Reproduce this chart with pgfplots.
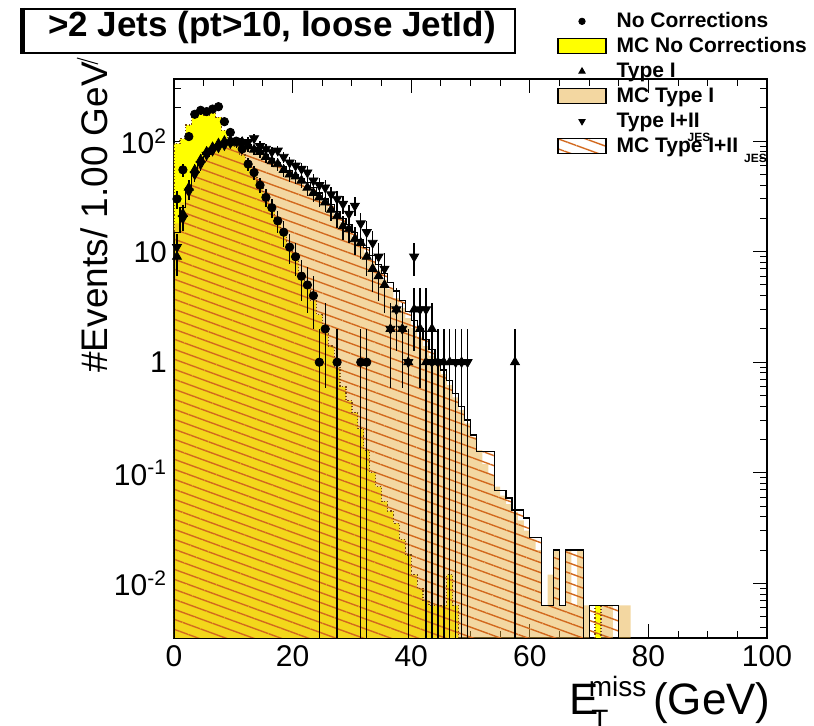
\documentclass[border=0pt]{standalone}
\usepackage{fontspec}
\setmainfont{Liberation Sans}
\usepackage{pgfplots}
\pgfplotsset{compat=1.18}
\usepackage{pgfplotstable}
\usetikzlibrary{patterns.meta}

\definecolor{mcyellow}{RGB}{255,255,0}
\definecolor{mctan}{RGB}{230,172,58}
\definecolor{hatchc}{RGB}{210,105,30}
\definecolor{dotc}{RGB}{120,70,20}

\pgfplotsset{
  boxlegend/.style={legend image code/.code={\draw[##1,solid,draw=black,line width=0.6pt] (0pt,-3.75pt) rectangle (24pt,3.75pt);}},
  marklegend/.style={legend image code/.code={\path[draw=none,fill=none] (0pt,-3.75pt) rectangle (24pt,3.75pt); \draw[##1] plot coordinates {(12pt,0pt)};}},
  hatchpat/.style={pattern={Lines[angle=-20,distance=4.7pt,line width=0.7pt]},pattern color=hatchc},
}

% MC No Corrections (bin left edge, content)
\pgfplotstableread{
x y
0 1e-4
0 95
1 105
2 140
3 165
4 175
5 170
6 180
7 165
8 125
9 105
10 90
11 75
12 60
13 48
14 38
15 30
16 24
17 18
18 14
19 11
20 8.5
21 6.5
22 5
23 3.6
24 2.7
25 2.0
26 1.4
27 0.9
28 0.6
29 0.45
30 0.35
31 0.25
32 0.16
33 0.1
34 0.075
35 0.055
36 0.045
37 0.035
38 0.025
39 0.018
40 0.012
41 0.009
42 0.007
43 0.0063
44 0.0063
45 0.0063
46 0.012
47 0.0063
48 1e-4
71 0.0063
72 1e-4
}\mcnc

% MC Type I
\pgfplotstableread{
x y
0 1e-4
0 18
1 28
2 40
3 52
4 64
5 75
6 84
7 92
8 98
9 100
10 98
11 95
12 90
13 85
14 79
15 73
16 67
17 61
18 56
19 51
20 47
21 43
22 39
23 35
24 31
25 27.5
26 24
27 21
28 18.5
29 16
30 13.5
31 11.5
32 9.8
33 8.2
34 6.8
35 5.6
36 4.6
37 3.8
38 3.1
39 2.5
40 2.05
41 1.7
42 1.4
43 1.15
44 0.95
45 0.78
46 0.62
47 0.48
48 0.37
49 0.28
50 0.21
51 0.16
52 0.12
53 0.095
54 0.075
55 0.062
56 0.052
57 0.044
58 0.037
59 0.03
60 0.025
61 0.02
62 0.0063
63 0.012
64 0.02
65 0.0063
66 0.02
67 0.0063
68 0.02
69 0.0063
70 1e-4
72 0.0063
74 1e-4
75 0.0063
77 1e-4
}\mctI

% MC Type I+II JES
\pgfplotstableread{
x y
0 1e-4
0 15
1 25
2 38
3 50
4 62
5 73
6 82
7 90
8 96
9 99
10 99
11 97
12 93
13 88
14 82
15 76
16 70
17 64
18 59
19 54
20 50
21 46
22 42
23 38
24 34
25 30
26 26.5
27 23
28 20
29 17.5
30 15
31 12.8
32 10.9
33 9.2
34 7.7
35 6.4
36 5.3
37 4.4
38 3.6
39 2.9
40 2.4
41 2.0
42 1.6
43 1.3
44 1.05
45 0.85
46 0.68
47 0.52
48 0.4
49 0.3
50 0.22
51 0.155
54 0.069
56 0.059
57 0.046
59 0.039
60 0.026
62 0.0063
64 0.02
65 0.0063
66 0.02
69 1e-4
70 0.0063
75 1e-4
}\mctII

% Data: No Corrections (bin centre, events)
\pgfplotstableread{
x y
0.5 30
1.5 55
2.5 110
3.5 175
4.5 190
5.5 185
6.5 195
7.5 205
8.5 150
9.5 120
10.5 100
11.5 85
12.5 62
13.5 52
14.5 40
15.5 31
16.5 25
17.5 19
18.5 15
19.5 11
20.5 9
21.5 6
22.5 5
23.5 4
24.5 1
25.5 2
27.5 1
31.5 1
32.5 1
}\dnc

% Data: Type I
\pgfplotstableread{
x y
0.5 9
1.5 22
2.5 38
3.5 55
4.5 68
5.5 80
6.5 88
7.5 95
8.5 100
9.5 102
10.5 96
11.5 98
12.5 90
13.5 84
14.5 80
15.5 72
16.5 66
17.5 62
18.5 55
19.5 50
20.5 48
21.5 44
22.5 38
23.5 34
24.5 31
25.5 28
26.5 24
27.5 21
28.5 17
29.5 16
30.5 13
31.5 12
32.5 9
33.5 7
34.5 6
35.5 5
36.5 2
37.5 3
38.5 2
39.5 1
40.5 3
41.5 2
42.5 1
43.5 2
44.5 1
45.5 1
46.5 1
48.5 1
57.5 1
}\dtI

% Data: Type I+II JES
\pgfplotstableread{
x y
0.5 11
1.5 20
2.5 35
3.5 50
4.5 62
5.5 75
6.5 82
7.5 88
8.5 92
9.5 96
10.5 100
11.5 95
12.5 98
13.5 106
14.5 90
15.5 85
16.5 80
17.5 82
18.5 72
19.5 64
20.5 60
21.5 56
22.5 52
23.5 44
24.5 40
25.5 38
26.5 33
27.5 30
28.5 27
29.5 22
30.5 26
31.5 18
32.5 15
33.5 12
34.5 9
35.5 7
36.5 2
37.5 3
38.5 2
39.5 1
40.5 9
41.5 3
42.5 3
43.5 1
44.5 1
47.5 1
48.5 1
49.5 1
}\dtII

\begin{document}
\begin{tikzpicture}
\useasboundingbox (-87pt,-44pt) rectangle (320pt,319pt);
\begin{axis}[
  at={(0pt,0pt)}, anchor=south west,
  scale only axis, width=296.5pt, height=279.5pt,
  ymode=log, xmin=0, xmax=100, ymin=0.0032, ymax=365,
  xtick={0,20,40,60,80,100}, minor x tick num=3,
  ytick={0.01,0.1,1,10,100},
  minor ytick={0.004,0.005,0.006,0.007,0.008,0.009,0.02,0.03,0.04,0.05,0.06,0.07,0.08,0.09,0.2,0.3,0.4,0.5,0.6,0.7,0.8,0.9,2,3,4,5,6,7,8,9,20,30,40,50,60,70,80,90,200,300},
  yticklabels={10\textsuperscript{-2},10\textsuperscript{-1},1,10,10\textsuperscript{2}},
  /pgf/number format/assume math mode=true,
  tick align=inside, major tick length=7pt, minor tick length=3.5pt,
  every tick/.style={black, line width=0.5pt},
  tick label style={font=\fontsize{15}{15}\selectfont},
  axis line style={line width=0.8pt},
  legend style={at={(0.6459,1.1262)}, anchor=north west, draw=none, fill=none,
    inner sep=0pt, row sep=0pt, column sep=5pt,
    nodes={inner sep=0pt, text height=9.5pt, text depth=3pt, font=\bfseries\fontsize{10.5}{10.5}\selectfont}},
  legend cell align=left,
]
\addplot[forget plot, const plot mark left, fill=mcyellow, draw=none] table[x=x,y=y]{\mcnc} -- cycle;
\addplot[forget plot, const plot mark left, fill=mctan, fill opacity=0.48, draw=none] table[x=x,y=y]{\mctI} -- cycle;
\addplot[forget plot, const plot mark left, hatchpat, draw=none] table[x=x,y=y]{\mctII} -- cycle;
\addplot[forget plot, const plot mark left, draw=dotc, densely dotted, line width=0.6pt] table[x=x,y=y]{\mcnc};
\addplot[forget plot, const plot mark left, draw=black, line width=0.6pt] table[x=x,y=y]{\mctII};

\addplot[forget plot, only marks, mark=*, mark size=2.1pt, black,
  error bars/.cd, y dir=both, y explicit, error mark=none, error bar style={line width=0.7pt, black}]
  table[x=x, y=y, y error plus expr={sqrt(\thisrow{y})}, y error minus expr={min(sqrt(\thisrow{y}),\thisrow{y}-0.0001)}]{\dnc};
\addplot[forget plot, only marks, mark=triangle*, mark size=2.6pt, black,
  error bars/.cd, y dir=both, y explicit, error mark=none, error bar style={line width=0.7pt, black}]
  table[x=x, y=y, y error plus expr={sqrt(\thisrow{y})}, y error minus expr={min(sqrt(\thisrow{y}),\thisrow{y}-0.0001)}]{\dtI};
\addplot[forget plot, only marks, mark=triangle*, mark size=2.6pt, mark options={rotate=180}, black,
  error bars/.cd, y dir=both, y explicit, error mark=none, error bar style={line width=0.7pt, black}]
  table[x=x, y=y, y error plus expr={sqrt(\thisrow{y})}, y error minus expr={min(sqrt(\thisrow{y}),\thisrow{y}-0.0001)}]{\dtII};

\addlegendimage{marklegend, only marks, mark=*, mark size=1.6pt, black}
\addlegendentry{No Corrections}
\addlegendimage{boxlegend, fill=mcyellow}
\addlegendentry{MC No Corrections}
\addlegendimage{marklegend, only marks, mark=triangle*, mark size=1.8pt, black}
\addlegendentry{Type I}
\addlegendimage{boxlegend, fill=mctan, fill opacity=0.48}
\addlegendentry{MC Type I}
\addlegendimage{marklegend, only marks, mark=triangle*, mark size=1.8pt, mark options={rotate=180}, black}
\addlegendentry{Type I+II\rlap{\kern-6pt\raisebox{-7pt}{\fontsize{6}{6}\selectfont JES}}}
\addlegendimage{boxlegend, hatchpat}
\addlegendentry{MC Type I+II\rlap{\kern3pt\raisebox{-5pt}{\fontsize{6}{6}\selectfont JES}}}
\end{axis}

\begin{scope}[shift={(-87pt,319pt)}, x=0.5pt, y=-0.5pt]
  \draw[line width=0.6pt] (22,9) rectangle (515,53);
  \draw[line width=2.5pt] (22.5,8) -- (22.5,54);
  \node[anchor=base, inner sep=0pt, font=\bfseries\fontsize{17.5}{17.5}\selectfont] at (272,37) {>2 Jets (pt>10, loose JetId)};
  \draw[line width=0.5pt] (77,58) -- (98,64);
  \node[anchor=base west, rotate=90, inner sep=0pt, font=\fontsize{18.5}{18.5}\selectfont] at (108,373) {\#Events/ 1.00 GeV};
  \node[anchor=base west, inner sep=0pt, font=\fontsize{22}{22}\selectfont] at (569,715)
    {E\rlap{\kern-3.7pt\raisebox{-7.5pt}{\fontsize{14}{14}\selectfont T}}\kern-5pt\raisebox{9pt}{\fontsize{14}{14}\selectfont miss}\kern3.5pt(GeV)};
\end{scope}
\end{tikzpicture}
\end{document}
